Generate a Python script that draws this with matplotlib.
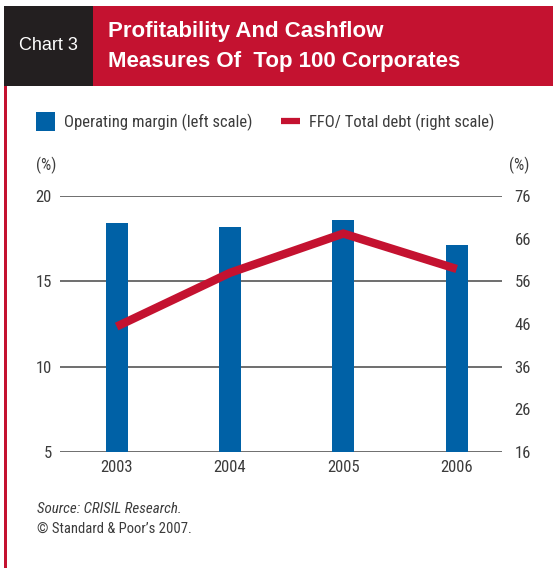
import matplotlib
matplotlib.use('Agg')
from matplotlib import pyplot as plt
from matplotlib.patches import Rectangle
from matplotlib.lines import Line2D

years = ['2003', '2004', '2005', '2006']
operating_margin = [18.4, 18.2, 18.6, 17.1]
ffo_to_debt = [45.4, 58.0, 67.2, 58.9]
left_ticks = [5, 10, 15, 20]
right_ticks = [16, 26, 36, 46, 56, 66, 76]

BLUE = '#0061a6'
RED = '#c41230'
DARK = '#231f20'
TEXT = '#3c3c3c'
GRID = '#555555'
NARROW = ['Roboto Condensed', 'DejaVu Sans']

W, H = 553, 568
fig = plt.figure(figsize=(W / 100, H / 100), dpi=100)


def fx(px):
    return px / W


def fy(py):
    return 1 - py / H


# header blocks and left rule
fig.add_artist(Rectangle((fx(4), fy(86)), fx(89), fy(6) - fy(86), transform=fig.transFigure,
                         facecolor=DARK, edgecolor='none'))
fig.add_artist(Rectangle((fx(93), fy(86)), fx(W - 93), fy(6) - fy(86), transform=fig.transFigure,
                         facecolor=RED, edgecolor='none'))
fig.add_artist(Rectangle((fx(4), 0), fx(3), fy(86), transform=fig.transFigure,
                         facecolor=RED, edgecolor='none'))
fig.text(fx(19), fy(46), 'Chart 3', color='white', fontsize=13, family='Liberation Sans',
         va='center', ha='left')
fig.text(fx(108), fy(31), 'Profitability And Cashflow', color='white', fontsize=16,
         family='Liberation Sans', weight='bold', va='center', ha='left')
fig.text(fx(108), fy(61), 'Measures Of  Top 100 Corporates', color='white', fontsize=16,
         family='Liberation Sans', weight='bold', va='center', ha='left')

# legend
fig.add_artist(Rectangle((fx(36), fy(131)), fx(19), fy(112) - fy(131), transform=fig.transFigure,
                         facecolor=BLUE, edgecolor='none'))
fig.text(fx(64), fy(122), 'Operating margin (left scale)', color=TEXT, fontsize=12,
         family=NARROW, va='center', ha='left')
fig.add_artist(Line2D([fx(281), fx(300)], [fy(121), fy(121)], transform=fig.transFigure,
                      color=RED, linewidth=4.5, solid_capstyle='butt'))
fig.text(fx(309), fy(122), 'FFO/ Total debt (right scale)', color=TEXT, fontsize=12,
         family=NARROW, va='center', ha='left')

# main axes
ax = fig.add_axes([fx(60), fy(452), fx(442), fy(196) - fy(452)])
ax2 = ax.twinx()
ax.set_zorder(ax2.get_zorder() - 1)
ax.patch.set_visible(False)

x = range(len(years))
ax.bar(x, [v - left_ticks[0] for v in operating_margin], bottom=left_ticks[0], width=0.195,
       color=BLUE, zorder=3)
ax2.plot(x, ffo_to_debt, color=RED, linewidth=6, solid_joinstyle='miter', solid_capstyle='butt')

ax.set_xlim(-0.5, 3.4)
ax.set_ylim(5, 20)
ax2.set_ylim(16, 76)
ax.set_yticks(left_ticks)
ax2.set_yticks(right_ticks)
ax.set_xticks(list(x))
ax.set_xticklabels(years)

for y in left_ticks:
    ax.axhline(y, color=GRID, linewidth=1.2, zorder=1)

for a in (ax, ax2):
    for spine in a.spines.values():
        spine.set_visible(False)
    a.tick_params(length=0, labelsize=12, labelcolor=TEXT)
    for label in a.get_xticklabels() + a.get_yticklabels():
        label.set_family(NARROW)
ax.tick_params(axis='y', pad=6)
ax.tick_params(axis='x', pad=6)
ax2.tick_params(axis='y', pad=9)

fig.text(fx(36), fy(165), '(%)', color=TEXT, fontsize=11.5, family=NARROW, va='center', ha='left')
fig.text(fx(509), fy(165), '(%)', color=TEXT, fontsize=11.5, family=NARROW, va='center', ha='left')

# footer
fig.text(fx(37), fy(509), 'Source: CRISIL Research.', color=TEXT, fontsize=10.8, family=NARROW,
         style='italic', va='center', ha='left')
fig.text(fx(37), fy(529), '\u00a9 Standard & Poor\u2019s 2007.', color=TEXT, fontsize=10.5,
         family=NARROW, va='center', ha='left')

fig.savefig('out.png', dpi=100)
